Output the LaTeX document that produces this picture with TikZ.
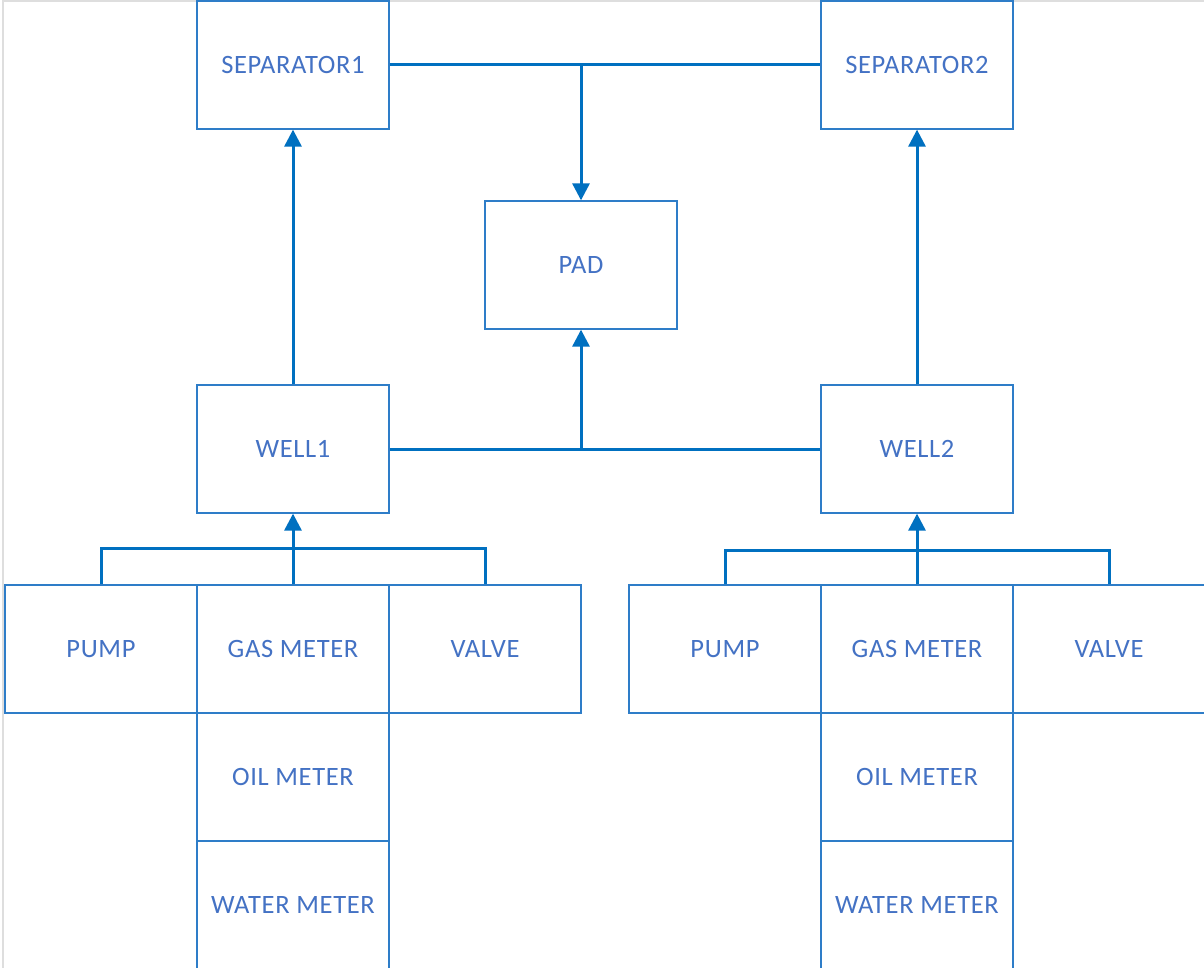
\documentclass[tikz,border=0pt]{standalone}
\usepackage{fontspec}
\setmainfont[LetterSpace=2.5]{Carlito}
\usetikzlibrary{arrows.meta}
\definecolor{linkblue}{RGB}{0,112,192}
\definecolor{boxblue}{RGB}{46,125,200}
\definecolor{txtblue}{RGB}{68,114,196}
\definecolor{pageedge}{RGB}{222,222,222}
\tikzset{
  unit/.style={draw=boxblue, line width=1.3pt, fill=white, minimum width=192pt,
    minimum height=128pt, inner sep=0pt, text=txtblue,
    font=\fontsize{26.5}{30}\selectfont},
  link/.style={draw=linkblue, line width=3pt},
  flow/.style={link, -{Triangle[length=17pt,width=17pt]}}
}
\begin{document}
\begin{tikzpicture}[x=1pt,y=-1pt]
\useasboundingbox (0,0) rectangle (1204,968);
\clip (0,0) rectangle (1204,968);
\fill[white] (0,0) rectangle (1204,968);
% page edge
\draw[pageedge, line width=1.2pt] (3,968) -- (3,1) -- (1204,1);

% top level
\node[unit] (sep1) at (293,65) {SEPARATOR1};
\node[unit] (sep2) at (917,65) {SEPARATOR2};
\node[unit] (pad) at (581,265) {PAD};

% wells
\node[unit] (well1) at (293,449) {WELL1};
\node[unit] (well2) at (917,449) {WELL2};

% equipment of well 1
\node[unit] (pump1) at (101,649) {PUMP};
\node[unit] (gas1) at (293,649) {GAS METER};
\node[unit] (valve1) at (485,649) {VALVE};
\node[unit] (oil1) at (293,777) {OIL METER};
\node[unit] (water1) at (293,905) {WATER METER};

% equipment of well 2
\node[unit] (pump2) at (725,649) {PUMP};
\node[unit] (gas2) at (917,649) {GAS METER};
\node[unit] (valve2) at (1109,649) {VALVE};
\node[unit] (oil2) at (917,777) {OIL METER};
\node[unit] (water2) at (917,905) {WATER METER};

% separators feed the pad
\draw[link] (sep1.east) -- (sep2.west);
\draw[flow] (sep1.east -| pad.north) -- (pad.north);

% wells feed the pad
\draw[link] (well1.east) -- (well2.west);
\draw[flow] (well1.east -| pad.south) -- (pad.south);

% wells feed the separators
\draw[flow] (well1.north) -- (sep1.south);
\draw[flow] (well2.north) -- (sep2.south);

% equipment buses
\draw[link] (pump1.north) -- ++(0,-36) -| (valve1.north);
\draw[flow] (gas1.north) -- (well1.south);
\draw[link] (pump2.north) -- ++(0,-34) -| (valve2.north);
\draw[flow] (gas2.north) -- (well2.south);
\end{tikzpicture}
\end{document}
